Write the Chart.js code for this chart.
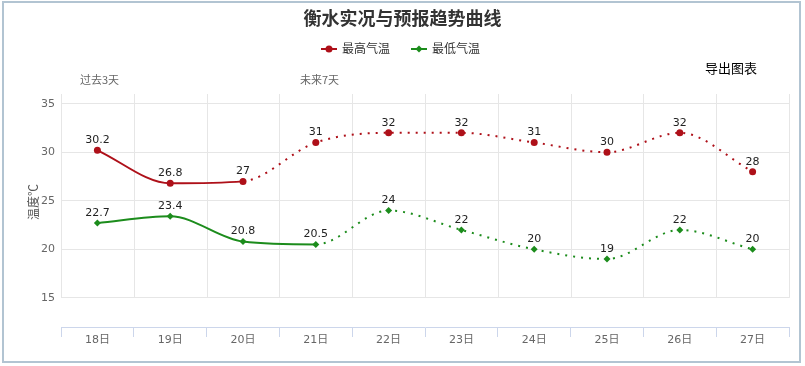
<!DOCTYPE html>
<html><head><meta charset="utf-8">
<script src="https://cdn.jsdelivr.net/npm/chart.js@4/dist/chart.umd.min.js"></script>
<style>html,body{margin:0;padding:0;background:#fff}#wrap{position:relative;width:805px;height:366px}</style>
</head><body><div id="wrap"><canvas id="c" width="805" height="366"></canvas></div>
<script>
// ---- data ----
const categories = ['18日','19日','20日','21日','22日','23日','24日','25日','26日','27日'];
const highTemps = [30.2, 26.8, 27, 31, 32, 32, 31, 30, 32, 28];
const lowTemps = [22.7, 23.4, 20.8, 20.5, 24, 22, 20, 19, 22, 20];
const yTickValues = [15, 20, 25, 30, 35];
const seriesNames = ['最高气温', '最低气温'];
const highObservedLast = 2; // last observed index (solid line up to here)
const lowObservedLast = 3;
const titleText = '衡水实况与预报趋势曲线';

const RED = '#ae1019', GREEN = '#1c8c1c';
const LATIN = "'DejaVu Sans', 'Noto Sans CJK SC', sans-serif";
const CJK = "'Noto Sans CJK SC', sans-serif";
Chart.defaults.font.family = LATIN;

const decor = {
  id: 'decor',
  beforeDatasetsDraw(chart) {
    const ctx = chart.ctx, x = chart.scales.x, y = chart.scales.y, a = chart.chartArea;
    const half = (x.getPixelForValue(1) - x.getPixelForValue(0)) / 2;
    const yb = y.getPixelForValue(yTickValues[0]);
    ctx.save();
    ctx.strokeStyle = '#e6e6e6'; ctx.lineWidth = 1;
    for (let i = 0; i <= categories.length; i++) {
      const px = Math.round(x.getPixelForValue(i) - half) + 0.5;
      ctx.beginPath(); ctx.moveTo(px, a.top); ctx.lineTo(px, yb); ctx.stroke();
    }
    ctx.restore();
  },
  afterDatasetsDraw(chart) {
    const ctx = chart.ctx;
    ctx.save();
    ctx.font = '11px ' + LATIN; ctx.fillStyle = '#222';
    ctx.textAlign = 'center'; ctx.textBaseline = 'middle';
    chart.data.datasets.forEach((ds, di) => {
      chart.getDatasetMeta(di).data.forEach((pt, i) => {
        ctx.fillText(String(ds.data[i]), pt.x, pt.y - 10);
      });
    });
    ctx.restore();
  },
  afterDraw(chart) {
    const ctx = chart.ctx;
    ctx.save();
    // frame
    ctx.strokeStyle = '#b2c4d2'; ctx.lineWidth = 2;
    ctx.strokeRect(3, 2, 797, 360);
    // legend
    const items = [
      {x0: 321, color: RED, name: seriesNames[0], shape: 'circle'},
      {x0: 411, color: GREEN, name: seriesNames[1], shape: 'diamond'}
    ];
    const ly = 49;
    items.forEach(it => {
      ctx.strokeStyle = it.color; ctx.lineWidth = 2;
      ctx.beginPath(); ctx.moveTo(it.x0, ly); ctx.lineTo(it.x0 + 16, ly); ctx.stroke();
      ctx.fillStyle = it.color; ctx.beginPath();
      const cx = it.x0 + 8;
      if (it.shape === 'circle') ctx.arc(cx, ly, 3.5, 0, Math.PI * 2);
      else { ctx.moveTo(cx, ly - 3.5); ctx.lineTo(cx + 3.5, ly); ctx.lineTo(cx, ly + 3.5); ctx.lineTo(cx - 3.5, ly); ctx.closePath(); }
      ctx.fill();
      ctx.fillStyle = '#333'; ctx.font = '12px ' + CJK;
      ctx.textAlign = 'left'; ctx.textBaseline = 'middle';
      ctx.fillText(it.name, it.x0 + 21, ly - 1);
    });
    // annotations
    ctx.fillStyle = '#000'; ctx.font = '13px ' + CJK; ctx.textAlign = 'left';
    ctx.fillText('导出图表', 705, 68);
    ctx.fillStyle = '#666'; ctx.font = '11px ' + CJK;
    ctx.fillText('过去3天', 80, 80);
    ctx.fillText('未来7天', 300, 80);
    // y axis title
    ctx.save();
    ctx.translate(33, 202); ctx.rotate(-Math.PI / 2);
    ctx.textAlign = 'center'; ctx.fillStyle = '#555'; ctx.font = '12px ' + CJK;
    ctx.fillText('温度℃', 0, 0);
    ctx.restore();
    ctx.restore();
  }
};

new Chart(document.getElementById('c'), {
  type: 'line',
  data: {
    labels: categories,
    datasets: [
      {
        label: seriesNames[0], data: highTemps,
        borderColor: RED, backgroundColor: RED, borderWidth: 2,
        pointStyle: 'circle', pointRadius: 3.5, pointBorderWidth: 0,
        cubicInterpolationMode: 'monotone', fill: false,
        segment: { borderDash: c => c.p0DataIndex >= highObservedLast ? [2, 6] : undefined }
      },
      {
        label: seriesNames[1], data: lowTemps,
        borderColor: GREEN, backgroundColor: GREEN, borderWidth: 2,
        pointStyle: 'rectRot', pointRadius: 3.5, pointBorderWidth: 0,
        cubicInterpolationMode: 'monotone', fill: false,
        segment: { borderDash: c => c.p0DataIndex >= lowObservedLast ? [2, 6] : undefined }
      }
    ]
  },
  options: {
    responsive: false, animation: false,
    layout: { padding: 0 },
    plugins: {
      legend: { display: false },
      tooltip: { enabled: false },
      title: {
        display: true, text: titleText, color: '#333',
        font: { family: CJK, size: 18, weight: 'bold', lineHeight: 1.2 },
        padding: { top: 7, bottom: 65.4 }
      }
    },
    scales: {
      x: {
        offset: true,
        afterFit: s => { s.height = 39; },
        grid: { offset: true, drawOnChartArea: false, drawTicks: true, tickLength: 10, color: '#ccd6eb' },
        border: { display: true, color: '#ccd6eb', width: 1 },
        ticks: { color: '#666', font: { size: 11, family: LATIN }, padding: -3, maxRotation: 0 }
      },
      y: {
        min: 12, max: 36,
        afterFit: s => { s.width = 61; },
        afterBuildTicks: s => { s.ticks = yTickValues.map(v => ({ value: v })); },
        grid: { color: '#e6e6e6', drawTicks: false },
        border: { display: false },
        ticks: { color: '#666', font: { size: 11, family: LATIN }, padding: 6 }
      },
      rightGap: {
        position: 'right', min: 12, max: 36,
        afterFit: s => { s.width = 16; },
        grid: { display: false },
        border: { display: false },
        ticks: { display: false }
      }
    }
  },
  plugins: [decor]
});
</script>
</body></html>
